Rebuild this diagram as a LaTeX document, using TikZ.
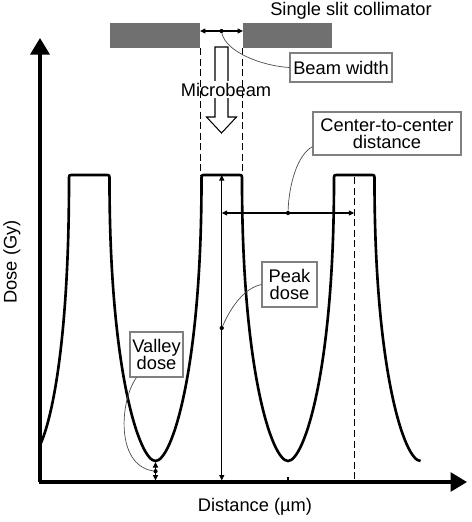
\documentclass[tikz,border=0pt]{standalone}
\usepackage{fontspec}
\setmainfont{Liberation Sans}
\usepackage{tikz}
\usetikzlibrary{arrows.meta,calc}
\definecolor{slabgray}{gray}{0.44}

\begin{document}
\begin{tikzpicture}[x=0.02cm, y=-0.02cm,
  every node/.style={font=\fontsize{10.4pt}{9.8pt}\selectfont, inner sep=0pt},
  doseaxis/.style={line width=1.8pt, -{Triangle[length=0.33cm,width=0.38cm]}},
  dosecurve/.style={line width=1.5pt},
  guide/.style={line width=0.6pt, dash pattern=on 4pt off 2pt},
  measure/.style={line width=0.6pt, {Triangle[length=0.11cm,width=0.1cm]}-{Triangle[length=0.11cm,width=0.1cm]}},
  leader/.style={line width=0.4pt, black!70},
  callout/.style={draw=black!50, line width=0.6pt, fill=white, align=center},
  slab/.style={fill=slabgray, minimum height=0.5cm},
  tipdot/.style={circle, fill, minimum size=2.4pt}]
  \useasboundingbox (0,0) rectangle (472,522);

  \coordinate (origin) at (40,482);
  \coordinate (ytip) at (40,38);
  \coordinate (xtip) at (467,482);
  \coordinate (pk2top) at (221.75,175);
  \coordinate (pk2foot) at (221.75,480.5);
  \coordinate (pk3top) at (354.25,177);
  \coordinate (pk3foot) at (354.25,482);
  \coordinate (ctcL) at (221.75,213);
  \coordinate (ctcR) at (354.25,213);
  \coordinate (vl1) at (155.5,462);
  \coordinate (vl1foot) at (155.5,480.5);
  \coordinate (vl2foot) at (288,482);
  \coordinate (bwL) at (200,31);
  \coordinate (bwR) at (243,31);

  \node[slab, minimum width=1.8cm] (colL) at (155,35.5) {};
  \node[slab, minimum width=1.78cm] (colR) at (287.5,35.5) {};
  \node[anchor=base] (coltext) at (351,15) {Single slit collimator};

  \draw[line width=0.6pt] (215,47) -- (228,47) -- (228,117) -- (236.5,117)
    -- (221.5,133) -- (206.5,117) -- (215,117) -- cycle;
  \node[anchor=base, fill=white, inner sep=1pt] (mbtext) at (226,96) {Microbeam};
  \draw[guide] (colL.south east) -- (colL.south east |- pk2top);
  \draw[guide] (colR.south west) -- (colR.south west |- pk2top);
  \draw[guide] (pk3top) -- (pk3foot);

  \draw[dosecurve] (40,445) .. controls (52,420) and (69,340) .. (69,180)
    .. controls (69,175) .. (72.5,175) -- (106,175) .. controls (109.5,175) .. (109.5,180)
    .. controls (109.5,371) and (139.5,461) .. (155.5,461)
    .. controls (171.5,461) and (201.5,371) .. (201.5,180)
    .. controls (201.5,175) .. (205,175) -- (238.5,175) .. controls (242,175) .. (242,180)
    .. controls (242,371) and (272,461) .. (288,461)
    .. controls (304,461) and (334,371) .. (334,180)
    .. controls (334,175) .. (337.5,175) -- (371,175) .. controls (374.5,175) .. (374.5,180)
    .. controls (374.5,371) and (404.5,461) .. (420.5,461);

  \draw[doseaxis] (origin) -- (ytip);
  \draw[doseaxis] ($(origin)+(-0.9,0)$) -- (xtip);
  \draw[line width=0.6pt] (vl2foot) -- ++(0,-5);

  \draw[measure] (bwL) -- (bwR);
  \draw[measure] (pk2top) -- (pk2foot);
  \draw[measure] (ctcL) -- (ctcR);
  \draw[measure] (vl1) -- (vl1foot);
  \node[tipdot] (bwdot) at ($(bwL)!0.5!(bwR)$) {};
  \node[tipdot] (pkdot) at (221.75,328) {};
  \node[tipdot] (ctcdot) at ($(ctcL)!0.5!(ctcR)$) {};
  \node[tipdot] (vldot) at ($(vl1)!0.5!(vl1foot)$) {};

  \node[callout, minimum width=2.04cm, minimum height=0.58cm] (bwbox) at (341,67.5) {Beam width};
  \node[callout, minimum width=2.96cm, minimum height=0.86cm] (ctcbox) at (387,133.5) {Center-to-center\\distance};
  \node[callout, minimum width=1.1cm, minimum height=0.9cm] (pkbox) at (289.5,284.5) {Peak\\dose};
  \node[callout, minimum width=1.06cm, minimum height=0.9cm] (vlbox) at (156.5,354.5) {Valley\\dose};

  \draw[leader] (bwdot) .. controls (226,52) and (262,66) .. (bwbox.west);
  \draw[leader] (ctcdot) .. controls (289,185) and (297,155) .. (ctcbox.190);
  \draw[leader] (pkdot) .. controls (232,305) and (245,288) .. (pkbox.west);
  \draw[leader] ($(vlbox.south west)+(7,0)$) .. controls (120,400) and (115,465) .. (vldot);

  \node[rotate=90] (ylabel) at (12,262) {Dose (Gy)};
  \node[anchor=base] (xlabel) at (255,511) {Distance (µm)};
\end{tikzpicture}
\end{document}
